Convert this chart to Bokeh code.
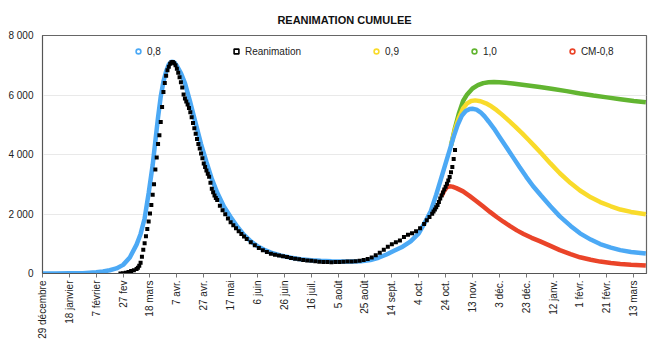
import math
from bokeh.plotting import figure
from bokeh.models import Range1d, FixedTicker, Legend, LegendItem
from bokeh.embed import file_html
from bokeh.resources import INLINE

# x axis: day index, day 0 = 29 December
x_tick_days = [0, 20, 40, 60, 80, 100, 120, 140, 160, 180, 200, 220, 240, 260, 280,
               300, 320, 340, 360, 380, 400, 420, 440]
x_tick_labels = ["29 décembre", "18 janvier", "7 février", "27 fev", "18 mars", "7 avr.",
                 "27 avr.", "17 mai", "6 juin", "26 juin", "16 juil.", "5 août", "25 août",
                 "14 sept.", "4 oct.", "24 oct.", "13 nov.", "3 déc.", "23 déc.", "12 janv.",
                 "1 févr.", "21 févr.", "13 mars"]
y_ticks = [0, 2000, 4000, 6000, 8000]
y_tick_labels = ["0", "2 000", "4 000", "6 000", "8 000"]

# series "0,8"
days_08 = [0, 10, 20, 30, 40, 45, 50, 55, 60, 65,
           70, 73, 76, 79, 82, 84, 86, 88, 90, 92,
           94, 96, 98, 100, 103, 106, 110, 114, 118, 122,
           126, 130, 135, 140, 145, 150, 155, 160, 165, 170,
           177, 185, 192, 200, 207, 215, 222, 230, 237, 244,
           250, 256, 262, 268, 274, 280, 285, 289, 293, 297,
           300, 303, 306, 309, 312, 315, 318, 320, 323, 326,
           329, 332, 336, 340, 345, 350, 355, 360, 365, 371,
           378, 385, 393, 400, 408, 415, 423, 430, 438, 449]
vals_08 = [0, 0, 5, 10, 40, 70, 110, 170, 290, 540,
           970, 1330, 1850, 2700, 3650, 4450, 5250, 5950, 6450, 6800,
           7030, 7120, 7100, 6980, 6740, 6400, 5750, 5050, 4350, 3750,
           3180, 2720, 2250, 1900, 1570, 1300, 1080, 920, 800, 700,
           610, 530, 480, 445, 425, 410, 405, 405, 415, 450,
           530, 640, 770, 900, 1080, 1350, 1750, 2100, 2650, 3250,
           3700, 4150, 4600, 5000, 5300, 5460, 5530, 5540, 5510, 5420,
           5280, 5110, 4870, 4600, 4260, 3920, 3580, 3250, 2940, 2620,
           2260, 1920, 1600, 1350, 1140, 990, 870, 785, 725, 670]

# series "Reanimation"
days_rea = [58, 60, 62, 64, 66, 68, 70, 71, 72, 73,
            74, 75, 76, 77, 78, 79, 80, 81, 82, 83,
            84, 85, 86, 87, 88, 89, 90, 91, 92, 93,
            94, 95, 96, 97, 98, 99, 100, 101, 102, 103,
            104, 105, 106, 107, 108, 109, 110, 111, 112, 113,
            114, 115, 116, 117, 118, 119, 120, 121, 122, 123,
            124, 125, 126, 127, 128, 129, 130, 132, 134, 136,
            138, 140, 142, 144, 146, 148, 150, 152, 155, 158,
            161, 164, 167, 170, 173, 176, 179, 182, 185, 188,
            191, 194, 197, 200, 203, 206, 209, 212, 215, 218,
            221, 224, 227, 230, 233, 236, 239, 242, 245, 248,
            251, 254, 257, 260, 263, 266, 269, 272, 275, 278,
            281, 284, 286, 288, 290, 291, 292, 293, 294, 295,
            296, 297, 298, 299, 300, 301, 302, 303, 304, 305,
            306, 307]
vals_rea = [0, 10, 25, 50, 80, 110, 150, 190, 260, 360,
            560, 800, 1020, 1250, 1500, 1750, 2020, 2300, 2650, 3000,
            3500, 3900, 4350, 4650, 5090, 5600, 6100, 6400, 6650, 6830,
            6950, 7050, 7100, 7110, 7070, 7000, 6880, 6750, 6600, 6430,
            6250, 6020, 5880, 5780, 5680, 5560, 5420, 5250, 5060, 4880,
            4700, 4520, 4350, 4200, 4030, 3870, 3700, 3580, 3460, 3350,
            3250, 3050, 2850, 2730, 2620, 2540, 2470, 2280, 2130, 1990,
            1850, 1720, 1620, 1520, 1420, 1330, 1240, 1160, 1050, 950,
            860, 780, 720, 660, 630, 605, 580, 555, 525, 500,
            475, 455, 440, 430, 410, 395, 390, 385, 380, 385,
            390, 395, 400, 405, 415, 430, 455, 490, 540, 610,
            700, 800, 900, 980, 1050, 1110, 1230, 1300, 1350, 1420,
            1520, 1660, 1790, 1900, 2010, 2080, 2150, 2230, 2300, 2400,
            2520, 2620, 2720, 2820, 2920, 3020, 3130, 3240, 3400, 3580,
            3850, 4150]

# series "0,9"
days_09 = [304, 307, 310, 313, 316, 319, 322, 326, 330, 334,
           338, 342, 347, 352, 357, 362, 366, 371, 378, 385,
           393, 400, 408, 415, 423, 430, 438, 449]
vals_09 = [4300, 4850, 5250, 5550, 5720, 5800, 5820, 5790, 5720, 5620,
           5490, 5340, 5140, 4930, 4710, 4480, 4290, 4050, 3700, 3370,
           3040, 2790, 2560, 2400, 2260, 2150, 2070, 1990]

# series "1,0"
days_10 = [304, 307, 310, 313, 316, 320, 324, 328, 332, 336,
           340, 345, 350, 360, 370, 380, 390, 400, 410, 420,
           430, 440, 449]
vals_10 = [4300, 4900, 5400, 5800, 6020, 6220, 6330, 6400, 6430, 6440,
           6430, 6410, 6390, 6330, 6270, 6200, 6130, 6050, 5980, 5920,
           5860, 5800, 5760]

# series "CM-0,8"
days_cm = [297, 299, 301, 303, 305, 308, 313, 318, 323, 328,
           333, 338, 343, 348, 353, 358, 364, 370, 378, 385,
           393, 400, 408, 415, 423, 430, 438, 449]
vals_cm = [2600, 2790, 2900, 2930, 2920, 2870, 2760, 2600, 2430, 2250,
           2070, 1900, 1740, 1590, 1450, 1330, 1200, 1090, 930, 785,
           650, 545, 460, 400, 355, 322, 298, 270]

BLUE = "#4CA9F5"
YELLOW = "#F9DB2B"
GREEN = "#62B531"
RED = "#EA4429"
FONT = "Liberation Sans"

p = figure(width=661, height=344, output_backend="svg", toolbar_location=None,
           x_range=Range1d(0, 449.5), y_range=Range1d(0, 8000),
           min_border_left=42, min_border_right=15, min_border_top=35,
           min_border_bottom=71)

p.title.text = "REANIMATION CUMULEE"
p.title.align = "center"
p.title.text_font = FONT
p.title.text_font_size = "11px"
p.title.text_font_style = "bold"
p.title.text_color = "#111111"
p.title.standoff = 20

p.outline_line_color = "#666666"
p.outline_line_width = 1.2
p.background_fill_color = "white"
p.border_fill_color = "white"

p.xgrid.visible = False
p.ygrid.grid_line_color = "#e9e9e9"
p.ygrid.grid_line_width = 1

xa = p.xaxis[0]
xa.ticker = FixedTicker(ticks=x_tick_days)
xa.major_label_overrides = {d: l for d, l in zip(x_tick_days, x_tick_labels)}
xa.major_label_orientation = math.pi / 2
xa.major_label_text_font = FONT
xa.major_label_text_font_size = "10px"
xa.major_label_text_color = "#222222"
xa.major_tick_in = 0
xa.major_tick_out = 4
xa.minor_tick_out = 0
xa.minor_tick_in = 0
xa.major_label_standoff = 3
xa.axis_line_color = "#555555"
xa.major_tick_line_color = "#777777"

ya = p.yaxis[0]
ya.ticker = FixedTicker(ticks=y_ticks)
ya.major_label_overrides = {t: l for t, l in zip(y_ticks, y_tick_labels)}
ya.major_label_text_font = FONT
ya.major_label_text_font_size = "10px"
ya.major_label_text_color = "#222222"
ya.major_tick_in = 0
ya.major_tick_out = 0
ya.minor_tick_out = 0
ya.minor_tick_in = 0
ya.major_label_standoff = 9
ya.axis_line_color = "#555555"

p.line(days_10, vals_10, line_color=GREEN, line_width=4.5)
p.line(days_09, vals_09, line_color=YELLOW, line_width=4.5)
p.line(days_08, vals_08, line_color=BLUE, line_width=4.5)
p.line(days_cm, vals_cm, line_color=RED, line_width=4.5)
p.scatter(days_rea, vals_rea, marker="square", size=4, fill_color="black", line_color=None)

# legend proxies (hollow markers as in the reference); their single point lies off the plotted range
off_x = [-1000]
off_y = [-1000]
r08 = p.scatter(off_x, off_y, marker="circle", size=5, fill_alpha=0, line_color=BLUE, line_width=1.6)
rrea = p.scatter(off_x, off_y, marker="square", size=5, fill_alpha=0, line_color="black", line_width=1.6)
r09 = p.scatter(off_x, off_y, marker="circle", size=5, fill_alpha=0, line_color=YELLOW, line_width=1.6)
r10 = p.scatter(off_x, off_y, marker="circle", size=5, fill_alpha=0, line_color=GREEN, line_width=1.6)
rcm = p.scatter(off_x, off_y, marker="circle", size=5, fill_alpha=0, line_color=RED, line_width=1.6)

legend = Legend(items=[
    LegendItem(label="0,8", renderers=[r08]),
    LegendItem(label="Reanimation", renderers=[rrea]),
    LegendItem(label="0,9", renderers=[r09]),
    LegendItem(label="1,0", renderers=[r10]),
    LegendItem(label="CM-0,8", renderers=[rcm]),
], orientation="horizontal", location=(90, 216))
legend.padding = 0
legend.margin = 0
legend.spacing = 69
legend.glyph_width = 12
legend.glyph_height = 12
legend.label_standoff = 3
legend.label_width = 5
legend.label_height = 12
legend.label_text_font = FONT
legend.label_text_font_size = "10px"
legend.label_text_color = "#222222"
legend.background_fill_alpha = 0
legend.border_line_alpha = 0
p.add_layout(legend, "center")

open("out.html", "w").write(file_html(p, INLINE))
